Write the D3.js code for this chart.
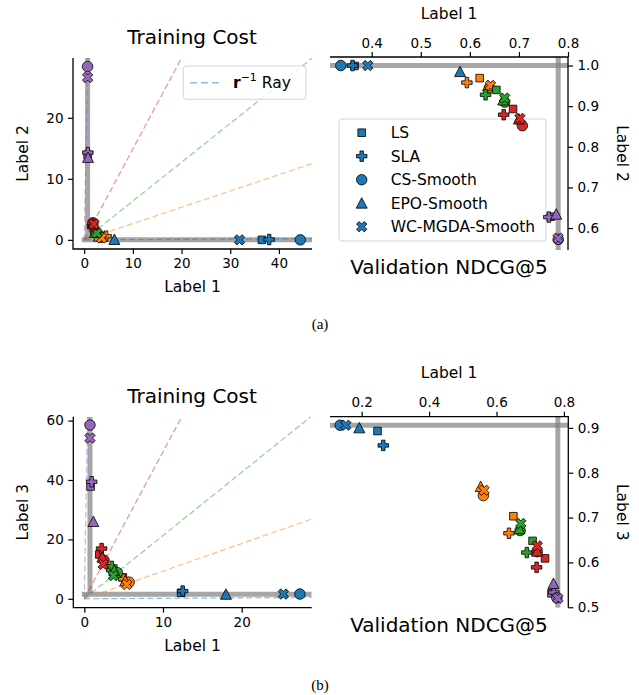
<!DOCTYPE html>
<html>
<head>
<meta charset="utf-8">
<script src="https://cdn.jsdelivr.net/npm/d3@7"></script>
<style>
  body { margin: 0; background: #fff; }
  svg { display: block; font-family: "DejaVu Sans", sans-serif; }
</style>
</head>
<body>
<svg id="chart" width="639" height="695"></svg>
<script>
const methods = ["LS", "SLA", "CS-Smooth", "EPO-Smooth", "WC-MGDA-Smooth"]
const prefColors = ["#1f77b4", "#ff7f0e", "#2ca02c", "#d62728", "#9467bd"]

// values per method, one entry per preference ray (blue, orange, green, red, purple)
// (a) training cost, Label 1 vs Label 2
const trainA_x = {
  "LS":             [36.5, 3.2, 2.1, 1.6, 0.7],
  "SLA":            [38.0, 4.5, 2.4, 1.7, 0.75],
  "CS-Smooth":      [44.4, 3.4, 2.3, 1.8, 0.7],
  "EPO-Smooth":     [6.2, 3.0, 2.2, 1.8, 0.8],
  "WC-MGDA-Smooth": [31.9, 3.6, 2.6, 2.0, 0.7]
}
const trainA_y = {
  "LS":             [0.0, 0.7, 1.5, 2.5, 13.9],
  "SLA":            [0.05, 0.6, 1.3, 2.3, 14.3],
  "CS-Smooth":      [0.0, 0.4, 1.4, 2.8, 28.4],
  "EPO-Smooth":     [0.05, 0.6, 1.2, 2.6, 13.5],
  "WC-MGDA-Smooth": [0.0, 0.3, 1.1, 2.6, 26.6]
}
// (a) validation NDCG@5
const valA_x = {
  "LS":             [0.365, 0.620, 0.654, 0.688, 0.765],
  "SLA":            [0.361, 0.594, 0.632, 0.669, 0.761],
  "CS-Smooth":      [0.337, 0.640, 0.671, 0.707, 0.780],
  "EPO-Smooth":     [0.580, 0.637, 0.668, 0.700, 0.776],
  "WC-MGDA-Smooth": [0.392, 0.642, 0.671, 0.702, 0.780]
}
const valA_y = {
  "LS":             [0.999, 0.969, 0.940, 0.893, 0.628],
  "SLA":            [1.000, 0.958, 0.928, 0.879, 0.627],
  "CS-Smooth":      [1.000, 0.945, 0.910, 0.852, 0.572],
  "EPO-Smooth":     [0.985, 0.950, 0.915, 0.868, 0.634],
  "WC-MGDA-Smooth": [1.000, 0.951, 0.920, 0.870, 0.575]
}
// (b) training cost, Label 1 vs Label 3
const trainB_x = {
  "LS":             [12.3, 4.9, 3.3, 1.9, 0.8],
  "SLA":            [12.5, 5.0, 3.5, 2.2, 0.94],
  "CS-Smooth":      [27.4, 5.7, 4.2, 2.5, 0.72],
  "EPO-Smooth":     [18.0, 5.2, 3.8, 2.3, 1.15],
  "WC-MGDA-Smooth": [25.3, 5.4, 3.7, 2.4, 0.72]
}
const trainB_y = {
  "LS":             [2.0, 7.2, 10.3, 14.9, 37.8],
  "SLA":            [2.6, 6.6, 10.9, 16.9, 39.4],
  "CS-Smooth":      [1.6, 5.6, 8.8, 13.0, 58.5],
  "EPO-Smooth":     [1.5, 6.0, 9.5, 14.0, 26.0],
  "WC-MGDA-Smooth": [1.6, 4.8, 7.8, 11.6, 54.1]
}
// (b) validation NDCG@5
const valB_x = {
  "LS":             [0.247, 0.650, 0.707, 0.744, 0.763],
  "SLA":            [0.264, 0.637, 0.690, 0.719, 0.770],
  "CS-Smooth":      [0.136, 0.561, 0.670, 0.721, 0.779],
  "EPO-Smooth":     [0.193, 0.553, 0.668, 0.720, 0.769],
  "WC-MGDA-Smooth": [0.153, 0.563, 0.672, 0.721, 0.782]
}
const valB_y = {
  "LS":             [0.893, 0.703, 0.648, 0.609, 0.531],
  "SLA":            [0.861, 0.665, 0.622, 0.589, 0.533],
  "CS-Smooth":      [0.906, 0.749, 0.671, 0.624, 0.521],
  "EPO-Smooth":     [0.900, 0.769, 0.675, 0.625, 0.553],
  "WC-MGDA-Smooth": [0.906, 0.761, 0.687, 0.637, 0.520]
}
// r^-1 ray slopes (Label y / Label 1), per preference
const raySlopesA = [0.004, 0.267, 0.636, 1.49, 40]
const raySlopesB = [0.016, 0.93, 2.13, 4.95, 150]

const trainTicksA_x = [0, 10, 20, 30, 40]
const trainTicksA_y = [0, 10, 20]
const valTicksA_x = [0.4, 0.5, 0.6, 0.7, 0.8]
const valTicksA_y = [0.6, 0.7, 0.8, 0.9, 1.0]
const trainTicksB_x = [0, 10, 20]
const trainTicksB_y = [0, 20, 40, 60]
const valTicksB_x = [0.2, 0.4, 0.6, 0.8]
const valTicksB_y = [0.5, 0.6, 0.7, 0.8, 0.9]

const svg = d3.select("#chart")
const TICK = 5, PAD = 4.5

// drawing layers: reference lines, legends, markers, axes/text
const lineLayer = svg.append("g")
const legendLayer = svg.append("g")
const pointLayer = svg.append("g")
const axisLayer = svg.append("g")

// marker shapes, matplotlib-like
function markerPath(method, ms) {
  const h = ms / 2
  if (method === "LS") {
    const s = ms * 0.4
    return `M${-s},${-s}H${s}V${s}H${-s}Z`
  }
  if (method === "CS-Smooth") {
    return `M${h},0A${h},${h} 0 1 1 ${-h},0A${h},${h} 0 1 1 ${h},0Z`
  }
  if (method === "EPO-Smooth") {
    return `M0,${-h}L${h},${h * 0.9}L${-h},${h * 0.9}Z`
  }
  const pts = [[-1, -3], [1, -3], [1, -1], [3, -1], [3, 1], [1, 1], [1, 3], [-1, 3], [-1, 1], [-3, 1], [-3, -1], [-1, -1]]
  const rot = method === "WC-MGDA-Smooth" ? Math.PI / 4 : 0
  const c = Math.cos(rot), s = Math.sin(rot)
  return "M" + pts.map(([x, y]) => {
    const px = x * ms / 6, py = y * ms / 6
    return `${px * c - py * s},${px * s + py * c}`
  }).join("L") + "Z"
}
const markerSize = { "LS": 9.5, "SLA": 10.5, "CS-Smooth": 10.5, "EPO-Smooth": 11, "WC-MGDA-Smooth": 11 }

let clipId = 0
function clipped(left, right, top, bottom) {
  const id = "clip" + (clipId++)
  svg.append("clipPath").attr("id", id).append("rect")
    .attr("x", left).attr("y", top).attr("width", right - left).attr("height", bottom - top)
  return lineLayer.append("g").attr("clip-path", `url(#${id})`)
}

function drawPoints(x, y, xs, ys) {
  const g = pointLayer.append("g")
  prefColors.forEach((col, i) => {
    methods.forEach(m => {
      g.append("path")
        .attr("d", markerPath(m, markerSize[m]))
        .attr("transform", `translate(${x(xs[m][i])},${y(ys[m][i])})`)
        .attr("fill", col)
        .attr("stroke", "#000")
        .attr("stroke-width", 0.8)
    })
  })
}

function styleAxis(a) {
  a.select(".domain").remove()
  a.selectAll("line").attr("stroke-width", 1.2)
  a.selectAll("text").attr("font-size", 13.5).attr("font-family", "DejaVu Sans").attr("fill", "#000")
}

function trainPanel(opts) {
  const { left, right, top, bottom, xDom, yDom, xTicks, yTicks, xs, ys, slopes, ylabel, titleY } = opts
  const x = d3.scaleLinear().domain(xDom).range([left, right])
  const y = d3.scaleLinear().domain(yDom).range([bottom, top])
  const g = clipped(left, right, top, bottom)

  const minX = d3.min(methods.flatMap(m => xs[m])), minY = d3.min(methods.flatMap(m => ys[m]))
  g.append("line").attr("x1", x(minX)).attr("x2", x(minX)).attr("y1", y(minY)).attr("y2", top)
    .attr("stroke", "#808080").attr("stroke-opacity", 0.7).attr("stroke-width", 5)
  g.append("line").attr("x1", x(0) - 2.5).attr("x2", right).attr("y1", y(minY)).attr("y2", y(minY))
    .attr("stroke", "#808080").attr("stroke-opacity", 0.7).attr("stroke-width", 5)

  slopes.forEach((k, i) => {
    const xe = Math.min(xDom[1], yDom[1] / k)
    g.append("line")
      .attr("x1", x(0)).attr("y1", y(0)).attr("x2", x(xe)).attr("y2", y(k * xe))
      .attr("stroke", prefColors[i]).attr("stroke-opacity", 0.5)
      .attr("stroke-width", 1.2).attr("stroke-dasharray", "6,3")
  })
  drawPoints(x, y, xs, ys)

  styleAxis(axisLayer.append("g").attr("transform", `translate(0,${bottom})`)
    .call(d3.axisBottom(x).tickValues(xTicks).tickSize(TICK).tickPadding(PAD).tickFormat(d3.format("d"))))
  styleAxis(axisLayer.append("g").attr("transform", `translate(${left},0)`)
    .call(d3.axisLeft(y).tickValues(yTicks).tickSize(TICK).tickPadding(PAD).tickFormat(d3.format("d"))))
  axisLayer.append("path").attr("d", `M${left},${top}V${bottom}H${right}`)
    .attr("fill", "none").attr("stroke", "#000").attr("stroke-width", 1.3)

  axisLayer.append("text").attr("x", (left + right) / 2).attr("y", bottom + 43)
    .attr("text-anchor", "middle").attr("font-size", 15.5).text("Label 1")
  axisLayer.append("text").attr("transform", `translate(${left - 45},${(top + bottom) / 2}) rotate(-90)`)
    .attr("text-anchor", "middle").attr("font-size", 15.5).text(ylabel)
  axisLayer.append("text").attr("x", 192).attr("y", titleY)
    .attr("text-anchor", "middle").attr("font-size", 20).text("Training Cost")
}

function valPanel(opts) {
  const { left, right, top, bottom, xDom, yDom, xTicks, yTicks, xs, ys, ylabel } = opts
  const x = d3.scaleLinear().domain(xDom).range([left, right])
  const y = d3.scaleLinear().domain(yDom).range([bottom, top])
  const g = clipped(left, right, top, bottom)

  const maxX = d3.max(methods.flatMap(m => xs[m])), maxY = d3.max(methods.flatMap(m => ys[m]))
  g.append("line").attr("x1", left).attr("x2", right).attr("y1", y(maxY)).attr("y2", y(maxY))
    .attr("stroke", "#808080").attr("stroke-opacity", 0.7).attr("stroke-width", 5)
  g.append("line").attr("x1", x(maxX)).attr("x2", x(maxX)).attr("y1", top).attr("y2", bottom)
    .attr("stroke", "#808080").attr("stroke-opacity", 0.7).attr("stroke-width", 5)
  drawPoints(x, y, xs, ys)

  styleAxis(axisLayer.append("g").attr("transform", `translate(0,${top})`)
    .call(d3.axisTop(x).tickValues(xTicks).tickSize(TICK).tickPadding(PAD).tickFormat(d3.format(".1f"))))
  styleAxis(axisLayer.append("g").attr("transform", `translate(${right},0)`)
    .call(d3.axisRight(y).tickValues(yTicks).tickSize(TICK).tickPadding(PAD).tickFormat(d3.format(".1f"))))
  axisLayer.append("path").attr("d", `M${left},${top}H${right}V${bottom}`)
    .attr("fill", "none").attr("stroke", "#000").attr("stroke-width", 1.3)

  axisLayer.append("text").attr("x", (left + right) / 2).attr("y", top - 38.5)
    .attr("text-anchor", "middle").attr("font-size", 15.5).text("Label 1")
  axisLayer.append("text").attr("transform", `translate(${right + 49},${(top + bottom) / 2}) rotate(90)`)
    .attr("text-anchor", "middle").attr("font-size", 15.5).text(ylabel)
  axisLayer.append("text").attr("x", 449).attr("y", bottom + 24)
    .attr("text-anchor", "middle").attr("font-size", 20).text("Validation NDCG@5")
}

// (a)
trainPanel({ left: 73, right: 312, top: 58, bottom: 249, xDom: [-2.3, 46.8], yDom: [-1.5, 29.8],
  xTicks: trainTicksA_x, yTicks: trainTicksA_y, xs: trainA_x, ys: trainA_y, slopes: raySlopesA,
  ylabel: "Label 2", titleY: 44 })
valPanel({ left: 330, right: 568, top: 57, bottom: 250, xDom: [0.315, 0.8], yDom: [0.546, 1.021],
  xTicks: valTicksA_x, yTicks: valTicksA_y, xs: valA_x, ys: valA_y, ylabel: "Label 2" })
// (b)
trainPanel({ left: 73.3, right: 311.7, top: 416.7, bottom: 607.7, xDom: [-1.4, 28.9], yDom: [-3.0, 61.3],
  xTicks: trainTicksB_x, yTicks: trainTicksB_y, xs: trainB_x, ys: trainB_y, slopes: raySlopesB,
  ylabel: "Label 3", titleY: 403 })
valPanel({ left: 330, right: 568.3, top: 416.7, bottom: 607.7, xDom: [0.106, 0.813], yDom: [0.499, 0.925],
  xTicks: valTicksB_x, yTicks: valTicksB_y, xs: valB_x, ys: valB_y, ylabel: "Label 3" })

// legend: r^-1 ray (a, training)
const lg1 = legendLayer.append("g")
lg1.append("rect").attr("x", 183.3).attr("y", 66).attr("width", 122.7).attr("height", 33.3).attr("rx", 3)
  .attr("fill", "#fff").attr("fill-opacity", 0.8).attr("stroke", "#d5d5d5")
lg1.append("line").attr("x1", 190).attr("x2", 223).attr("y1", 82.7).attr("y2", 82.7)
  .attr("stroke", prefColors[0]).attr("stroke-opacity", 0.5).attr("stroke-width", 1.4).attr("stroke-dasharray", "7,4")
const lt = lg1.append("text").attr("x", 233).attr("y", 88).attr("font-size", 15.5)
lt.append("tspan").attr("font-weight", "bold").text("r")
lt.append("tspan").attr("font-size", 11).attr("dy", -7).text("\u22121")
lt.append("tspan").attr("dy", 7).text(" Ray")

// legend: methods (a, validation)
const lg2 = legendLayer.append("g")
lg2.append("rect").attr("x", 339).attr("y", 119).attr("width", 207).attr("height", 122).attr("rx", 3)
  .attr("fill", "#fff").attr("fill-opacity", 0.8).attr("stroke", "#d5d5d5")
methods.forEach((m, i) => {
  const cy = 132.7 + i * 23.5
  lg2.append("path").attr("d", markerPath(m, markerSize[m]))
    .attr("transform", `translate(361.7,${cy})`)
    .attr("fill", prefColors[0]).attr("stroke", "#000").attr("stroke-width", 0.8)
  lg2.append("text").attr("x", 390.7).attr("y", cy + 5.5).attr("font-size", 15.5).text(m)
})

// captions
svg.append("text").attr("x", 320).attr("y", 329).attr("text-anchor", "middle")
  .attr("font-family", "Liberation Serif").attr("font-size", 15).text("(a)")
svg.append("text").attr("x", 320).attr("y", 690).attr("text-anchor", "middle")
  .attr("font-family", "Liberation Serif").attr("font-size", 15).text("(b)")
</script>
</body>
</html>
